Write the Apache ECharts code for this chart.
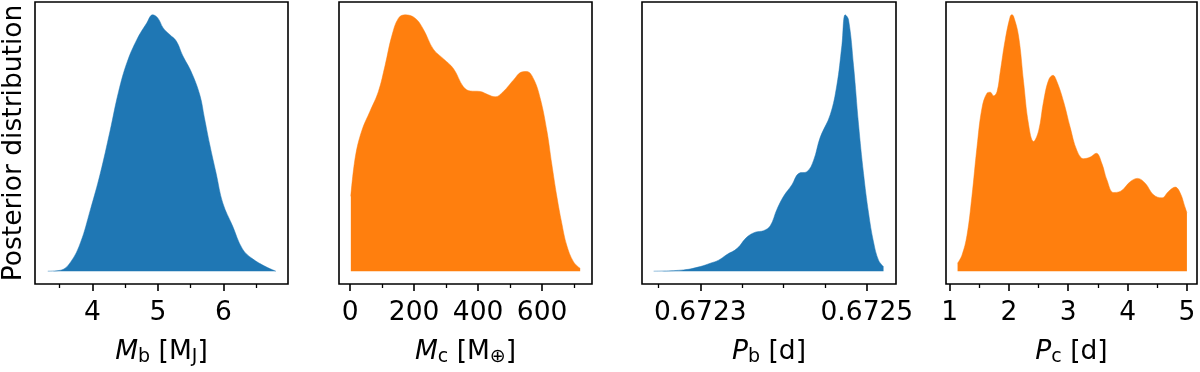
<!DOCTYPE html>
<html>
<head>
	<meta charset="utf-8" />
	<title>Posterior distributions</title>
	<style>
		html, body { margin: 0; padding: 0; background: #fff; }
		#main { width: 1200px; height: 372px; }
	</style>
</head>
<body>
	<div id="main"></div>
	<script src="https://cdn.jsdelivr.net/npm/echarts@6/dist/echarts.min.js"></script>
	<script type="text/javascript">
		// M_b [M_J]
		var mbX = [3.32, 3.52, 3.67, 3.82, 3.97, 4.12, 4.27, 4.40, 4.53, 4.68, 4.83, 4.92, 5.00, 5.08, 5.18, 5.28, 5.38, 5.51, 5.64, 5.71, 5.79, 5.89, 5.99, 6.14, 6.29, 6.44, 6.65, 6.80];
		var mbY = [0, 0.004, 0.036, 0.112, 0.240, 0.380, 0.547, 0.700, 0.815, 0.904, 0.968, 1.0, 0.987, 0.949, 0.923, 0.898, 0.840, 0.777, 0.687, 0.598, 0.495, 0.380, 0.266, 0.176, 0.087, 0.049, 0.017, 0];
		// M_c [M_earth]
		var mcX = [2, 16, 36, 62, 88, 109, 130, 151, 172, 203, 229, 260, 292, 323, 354, 375, 406, 432, 453, 479, 510, 536, 552, 573, 594, 615, 630, 646, 661, 677, 698, 719];
		var mcY = [0.292, 0.445, 0.547, 0.624, 0.700, 0.802, 0.917, 0.987, 1.0, 0.987, 0.943, 0.866, 0.828, 0.790, 0.719, 0.703, 0.701, 0.688, 0.680, 0.701, 0.745, 0.777, 0.779, 0.751, 0.675, 0.547, 0.420, 0.292, 0.190, 0.101, 0.037, 0.011];
		// P_b [d]
		var pbX = [0.672244, 0.672280, 0.672300, 0.672312, 0.672322, 0.672332, 0.672344, 0.672356, 0.672366, 0.672376, 0.672384, 0.672392, 0.672400, 0.672410, 0.672418, 0.672428, 0.672436, 0.672444, 0.672456, 0.672464, 0.672470, 0.672474, 0.672478, 0.672484, 0.672490, 0.672496, 0.672502, 0.672508, 0.672514, 0.672520];
		var pbY = [0, 0.005, 0.018, 0.031, 0.043, 0.065, 0.088, 0.133, 0.152, 0.158, 0.177, 0.241, 0.292, 0.337, 0.381, 0.388, 0.432, 0.522, 0.610, 0.726, 0.880, 1.0, 0.981, 0.802, 0.573, 0.381, 0.228, 0.114, 0.043, 0.018];
		// P_c [d]
		var pcX = [1.135, 1.209, 1.293, 1.377, 1.462, 1.546, 1.630, 1.686, 1.742, 1.799, 1.854, 1.939, 2.023, 2.05, 2.079, 2.163, 2.247, 2.331, 2.415, 2.50, 2.584, 2.668, 2.742, 2.81, 2.921, 3.034, 3.146, 3.258, 3.371, 3.472, 3.567, 3.652, 3.763, 3.876, 4.044, 4.168, 4.297, 4.437, 4.578, 4.690, 4.803, 4.887, 4.972, 5.0];
		var pcY = [0.031, 0.0625, 0.139, 0.292, 0.483, 0.636, 0.694, 0.698, 0.684, 0.700, 0.777, 0.904, 0.994, 1.0, 0.994, 0.917, 0.739, 0.573, 0.506, 0.547, 0.662, 0.745, 0.764, 0.739, 0.662, 0.560, 0.471, 0.439, 0.445, 0.460, 0.420, 0.356, 0.307, 0.311, 0.349, 0.362, 0.343, 0.298, 0.286, 0.311, 0.328, 0.305, 0.247, 0.228];

		var panels = [
			{ x: mbX, y: mbY, color: '#1f77b4', min: 3.125, max: 6.985, major: [4, 5, 6], minor: [3.5, 4.5, 5.5, 6.5],
			  name: '{i|M}{s|b}{n| [M}{s|J}{n|]}', left: 35, width: 253 },
			{ x: mcX, y: mcY, color: '#ff7f0e', min: -35, max: 756, major: [0, 200, 400, 600], minor: [100, 300, 500, 700],
			  name: '{i|M}{s|c}{n| [M}{s|⊕}{n|]}', left: 339, width: 253 },
			{ x: pbX, y: pbY, color: '#1f77b4', min: 0.672230, max: 0.672535, major: [0.6723, 0.6725], minor: [0.67225, 0.67235, 0.6724, 0.67245],
			  name: '{i|P}{s|b}{n| [d]}', left: 642, width: 254, fmt: 4 },
			{ x: pcX, y: pcY, color: '#ff7f0e', min: 0.94, max: 5.17, major: [1, 2, 3, 4, 5], minor: [1.5, 2.5, 3.5, 4.5],
			  name: '{i|P}{s|c}{n| [d]}', left: 946, width: 251 }
		];

		var font = 'DejaVu Sans';
		var fs = 26.5;
		var rich = {
			i: { fontFamily: font, fontSize: fs, fontStyle: 'italic', color: '#000' },
			n: { fontFamily: font, fontSize: fs, color: '#000' },
			s: { fontFamily: font, fontSize: 19, color: '#000', padding: [11, 0, 0, 0] }
		};

		var grids = [], xAxes = [], yAxes = [], series = [];
		panels.forEach(function (p, k) {
			grids.push({ left: p.left, width: p.width, top: 2, height: 287, show: true,
				borderColor: '#000', borderWidth: 1.6, backgroundColor: 'transparent' });
			// major ticks + labels
			xAxes.push({
				type: 'value', gridIndex: k, position: 'bottom', min: p.min, max: p.max,
				splitLine: { show: false }, axisLine: { show: false, onZero: false },
				axisTick: { show: true, length: 7, customValues: p.major, lineStyle: { color: '#000', width: 1.6 } },
				axisLabel: { show: true, customValues: p.major, margin: 16, color: '#000', fontFamily: font, fontSize: fs,
					formatter: function (v) { return p.fmt ? (+v).toFixed(p.fmt) : String(+(+v).toFixed(6)); } },
				name: p.name, nameLocation: 'middle', nameGap: 53,
				nameTextStyle: { rich: rich }
			});
			// minor ticks
			xAxes.push({
				type: 'value', gridIndex: k, position: 'bottom', offset: 0, min: p.min, max: p.max,
				splitLine: { show: false }, axisLine: { show: false, onZero: false },
				axisTick: { show: true, length: 4, customValues: p.minor, lineStyle: { color: '#000', width: 1.3 } },
				axisLabel: { show: false }
			});
			yAxes.push({
				type: 'value', gridIndex: k, min: -0.05, max: 1.05,
				axisLine: { show: false, onZero: false }, axisTick: { show: false }, axisLabel: { show: false }, splitLine: { show: false },
				name: k === 0 ? 'Posterior distribution' : '', nameLocation: 'middle', nameGap: 7,
				nameTextStyle: { fontFamily: font, fontSize: fs, color: '#000' }
			});
			series.push({
				type: 'line', xAxisIndex: 2 * k, yAxisIndex: k,
				data: p.x.map(function (v, j) { return [v, p.y[j]]; }),
				smooth: 0.4, showSymbol: false, silent: true,
				lineStyle: { width: 0.5, color: p.color },
				areaStyle: { color: p.color, opacity: 1, origin: 0 }
			});
		});

		var chart = echarts.init(document.getElementById('main'), null, { renderer: 'canvas' });
		chart.setOption({
			animation: false,
			grid: grids,
			xAxis: xAxes,
			yAxis: yAxes,
			series: series
		});
	</script>
</body>
</html>
